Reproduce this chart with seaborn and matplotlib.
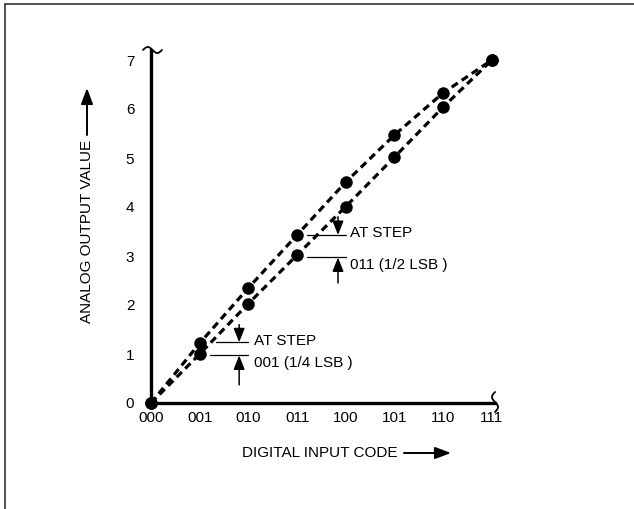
import numpy as np
import pandas as pd
import matplotlib
matplotlib.use("Agg")
import matplotlib.pyplot as plt
import matplotlib.font_manager as fm
import seaborn as sns
from matplotlib.lines import Line2D

# ---- data ----
codes = [0, 1, 2, 3, 4, 5, 6, 7]
code_labels = ["000", "001", "010", "011", "100", "101", "110", "111"]
y_ticks = [0, 1, 2, 3, 4, 5, 6, 7]
upper_values = [0, 1.22, 2.35, 3.43, 4.51, 5.47, 6.33, 7.0]
lower_values = [0, 1.0, 2.03, 3.02, 4.01, 5.02, 6.04, 7.0]
annot1_lines = [1.24, 0.97]   # step 001 reference levels
annot2_lines = [3.43, 2.97]   # step 011 reference levels
annot1_text = ["AT STEP", "001 (1/4 LSB )"]
annot2_text = ["AT STEP", "011 (1/2 LSB )"]

sns.set_theme(style="white")
names = {f.name for f in fm.fontManager.ttflist}
if "DejaVu Sans Condensed" in names:
    fam, FS = "DejaVu Sans Condensed", 11
else:
    fam, FS = "Liberation Sans", 11
plt.rcParams['font.family'] = [fam, 'DejaVu Sans']
plt.rcParams['text.color'] = 'black'

W, H = 634, 509
fig = plt.figure(figsize=(W / 100, H / 100), dpi=100)

# axes placement from pixel geometry
px_x, px_y = 48.7, 49.0
x0, y0 = 151, 403
xmax, ymax = 7.4, 7.4
ax = fig.add_axes([x0 / W, (H - y0) / H, xmax * px_x / W, ymax * px_y / H])

df = pd.DataFrame({
    "code": codes * 2,
    "value": upper_values + lower_values,
    "series": ["upper"] * len(codes) + ["lower"] * len(codes),
})
sns.lineplot(data=df, x="code", y="value", hue="series", style="series",
             palette=["black", "black"], dashes=[(2.3, 1.5), (2.3, 1.5)],
             markers=["o", "o"], markersize=9, markeredgewidth=0,
             linewidth=2.3, legend=False, ax=ax, sort=False)
for ln in ax.lines:
    ln.set_clip_on(False)

ax.set_xlim(0, xmax)
ax.set_ylim(0, ymax)
ax.set_xticks(codes)
ax.set_xticklabels(code_labels, fontsize=FS)
ax.set_yticks(y_ticks)
ax.set_yticklabels([str(v) for v in y_ticks], fontsize=FS)
ax.tick_params(axis="x", length=0, pad=6, colors="black")
ax.tick_params(axis="y", length=0, pad=12, colors="black")
ax.set_xlabel("")
ax.set_ylabel("")
for s in ["top", "right"]:
    ax.spines[s].set_visible(False)
for s in ["left", "bottom"]:
    ax.spines[s].set_color("black")
    ax.spines[s].set_linewidth(2.4)
ax.spines["left"].set_bounds(0, 7.2)
ax.spines["bottom"].set_bounds(0, 7.06)
ax.patch.set_alpha(0)

# reference lines and arrows for annotations
def annotate_step(xl1, xl2, xr, xa, levels, top, bottom, tx, texts):
    ax.plot([xl1, xr], [levels[0], levels[0]], color="black", lw=0.9, clip_on=False)
    ax.plot([xl2, xr], [levels[1], levels[1]], color="black", lw=0.9, clip_on=False)
    ap = dict(arrowstyle="-|>,head_length=0.7,head_width=0.28", color="black",
              lw=1.1, mutation_scale=12, shrinkA=0, shrinkB=0)
    ax.annotate("", xy=(xa, levels[0]), xytext=(xa, top), arrowprops=ap)
    ax.annotate("", xy=(xa, levels[1]), xytext=(xa, bottom), arrowprops=ap)
    ax.text(tx, levels[0] + 0.03, texts[0], fontsize=FS, va="center", ha="left")
    ax.text(tx, levels[1] - 0.15, texts[1], fontsize=FS, va="center", ha="left")

annotate_step(1.33, 1.21, 2.0, 1.81, annot1_lines, 1.6, 0.37, 2.12, annot1_text)
annotate_step(3.2, 3.2, 4.0, 3.84, annot2_lines, 3.8, 2.45, 4.08, annot2_text)

# pixel -> figure coordinates helper
def fx(px):
    return np.asarray(px) / W

def fy(py):
    return (H - np.asarray(py)) / H

# axis break squiggles
t = np.linspace(0, 1, 40)
sx = 143 + 19 * t
sy = 50 - 3 * np.sin(2 * np.pi * t)
fig.add_artist(Line2D(fx(sx), fy(sy), color="black", lw=1.3))
sy2 = 392 + 20 * t
sx2 = 495 - 3 * np.sin(2 * np.pi * t)
fig.add_artist(Line2D(fx(sx2), fy(sy2), color="black", lw=1.3))

# axis titles with arrows
fig.text(fx(397), fy(453), "DIGITAL INPUT CODE", fontsize=FS, ha="right", va="center")
fig.add_artist(matplotlib.patches.FancyArrowPatch(
    (fx(404), fy(453)), (fx(451), fy(453)), transform=fig.transFigure,
    arrowstyle="-|>,head_length=0.8,head_width=0.3", mutation_scale=12,
    color="black", lw=1.4, shrinkA=0, shrinkB=0))
fig.text(fx(87), fy(140), "ANALOG OUTPUT VALUE", fontsize=FS, rotation=90,
         ha="center", va="top")
fig.add_artist(matplotlib.patches.FancyArrowPatch(
    (fx(87), fy(135)), (fx(87), fy(88)), transform=fig.transFigure,
    arrowstyle="-|>,head_length=0.8,head_width=0.3", mutation_scale=12,
    color="black", lw=1.4, shrinkA=0, shrinkB=0))

# frame (left and top edges)
fig.add_artist(Line2D([fx(4.5), fx(4.5)], [fy(3.5), fy(509)], color="#333333", lw=1.2))
fig.add_artist(Line2D([fx(4.5), fx(634)], [fy(3.5), fy(3.5)], color="#333333", lw=1.2))

fig.savefig("out.png", dpi=100)
